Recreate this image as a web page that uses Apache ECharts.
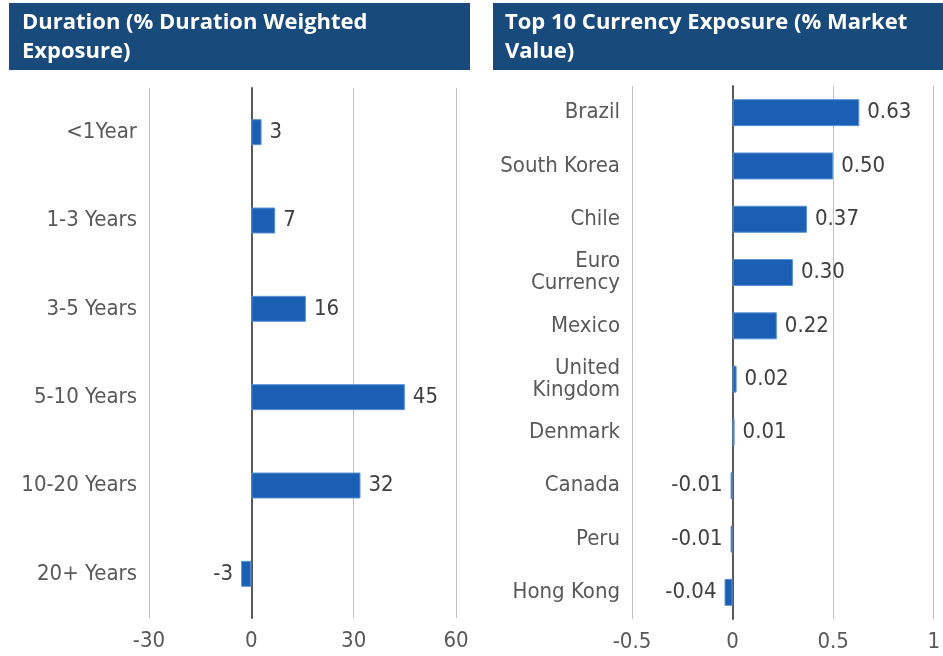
<!DOCTYPE html>
<html><head><meta charset="utf-8">
<script src="https://cdn.jsdelivr.net/npm/echarts@6/dist/echarts.min.js"></script>
<style>html,body{margin:0;padding:0;background:#fff}#c{width:943px;height:656px}</style>
</head><body><div id="c"></div>
<script>
const durationCategories = ['<1Year', '1-3 Years', '3-5 Years', '5-10 Years', '10-20 Years', '20+ Years'];
const durationValues = [3, 7, 16, 45, 32, -3];
const durationTicks = { min: -30, max: 60, interval: 30 };

const currencyCategories = ['Brazil', 'South Korea', 'Chile', 'Euro\nCurrency', 'Mexico', 'United\nKingdom', 'Denmark', 'Canada', 'Peru', 'Hong Kong'];
const currencyValues = [0.63, 0.50, 0.37, 0.30, 0.22, 0.02, 0.01, -0.01, -0.01, -0.04];
const currencyTicks = { min: -0.5, max: 1, interval: 0.5 };

const titles = ['Duration (% Duration Weighted\nExposure)', 'Top 10 Currency Exposure (% Market\nValue)'];

const FONT = '"Liberation Sans Narrow", "DejaVu Sans Condensed", "Noto Sans", sans-serif';
const BAR = '#1b5fb5';

function mkData(vals, digits) {
  return vals.map(v => ({
    value: v,
    label: { position: v < 0 ? 'left' : 'right', formatter: () => v.toFixed(digits) }
  }));
}

const chart = echarts.init(document.getElementById('c'));
const axisLabelStyle = { color: '#595959', fontSize: 22, fontFamily: FONT };
chart.setOption({
  animation: false,
  graphic: [
    { type: 'rect', shape: { x: 9, y: 3, width: 461, height: 67 }, style: { fill: '#184a7b' } },
    { type: 'rect', shape: { x: 493, y: 3, width: 450, height: 67 }, style: { fill: '#184a7b' } },
    { type: 'text', x: 22, y: 8, style: { text: titles[0], fill: '#fff', font: 'bold 22px "Open Sans", "Noto Sans", sans-serif', lineHeight: 29 } },
    { type: 'text', x: 505, y: 8, style: { text: titles[1], fill: '#fff', font: 'bold 22px "Open Sans", "Noto Sans", sans-serif', lineHeight: 29 } }
  ],
  grid: [
    { left: 149, right: 487, top: 88, bottom: 38 },
    { left: 632, right: 4, top: 86, bottom: 37 }
  ],
  xAxis: [
    { gridIndex: 0, type: 'value', min: durationTicks.min, max: durationTicks.max, interval: durationTicks.interval,
      axisLine: { show: false }, axisTick: { show: false },
      splitLine: { lineStyle: { color: '#bfbfbf', width: 1 } },
      axisLabel: Object.assign({ margin: 12 }, axisLabelStyle) },
    { gridIndex: 1, type: 'value', min: currencyTicks.min, max: currencyTicks.max, interval: currencyTicks.interval,
      axisLine: { show: false }, axisTick: { show: false },
      splitLine: { lineStyle: { color: '#bfbfbf', width: 1 } },
      axisLabel: Object.assign({ margin: 12 }, axisLabelStyle) }
  ],
  yAxis: [
    { gridIndex: 0, type: 'category', inverse: true, data: durationCategories,
      axisLine: { onZero: true, lineStyle: { color: '#595959', width: 2 } }, axisTick: { show: false },
      axisLabel: { color: '#595959', fontSize: 22, fontFamily: FONT, margin: 12, lineHeight: 22 } },
    { gridIndex: 1, type: 'category', inverse: true, data: currencyCategories,
      axisLine: { onZero: true, lineStyle: { color: '#595959', width: 2 } }, axisTick: { show: false },
      axisLabel: { color: '#595959', fontSize: 22, fontFamily: FONT, margin: 12, lineHeight: 22 } }
  ],
  series: [
    { type: 'bar', xAxisIndex: 0, yAxisIndex: 0, data: mkData(durationValues, 0), barWidth: 26,
      itemStyle: { color: BAR, borderColor: '#5a93d6', borderWidth: 1 },
      label: { show: true, color: '#404040', fontSize: 22, fontFamily: FONT, distance: 8 } },
    { type: 'bar', xAxisIndex: 1, yAxisIndex: 1, data: mkData(currencyValues, 2), barWidth: 27,
      itemStyle: { color: BAR, borderColor: '#5a93d6', borderWidth: 1 },
      label: { show: true, color: '#404040', fontSize: 22, fontFamily: FONT, distance: 8 } }
  ]
});
</script></body></html>
